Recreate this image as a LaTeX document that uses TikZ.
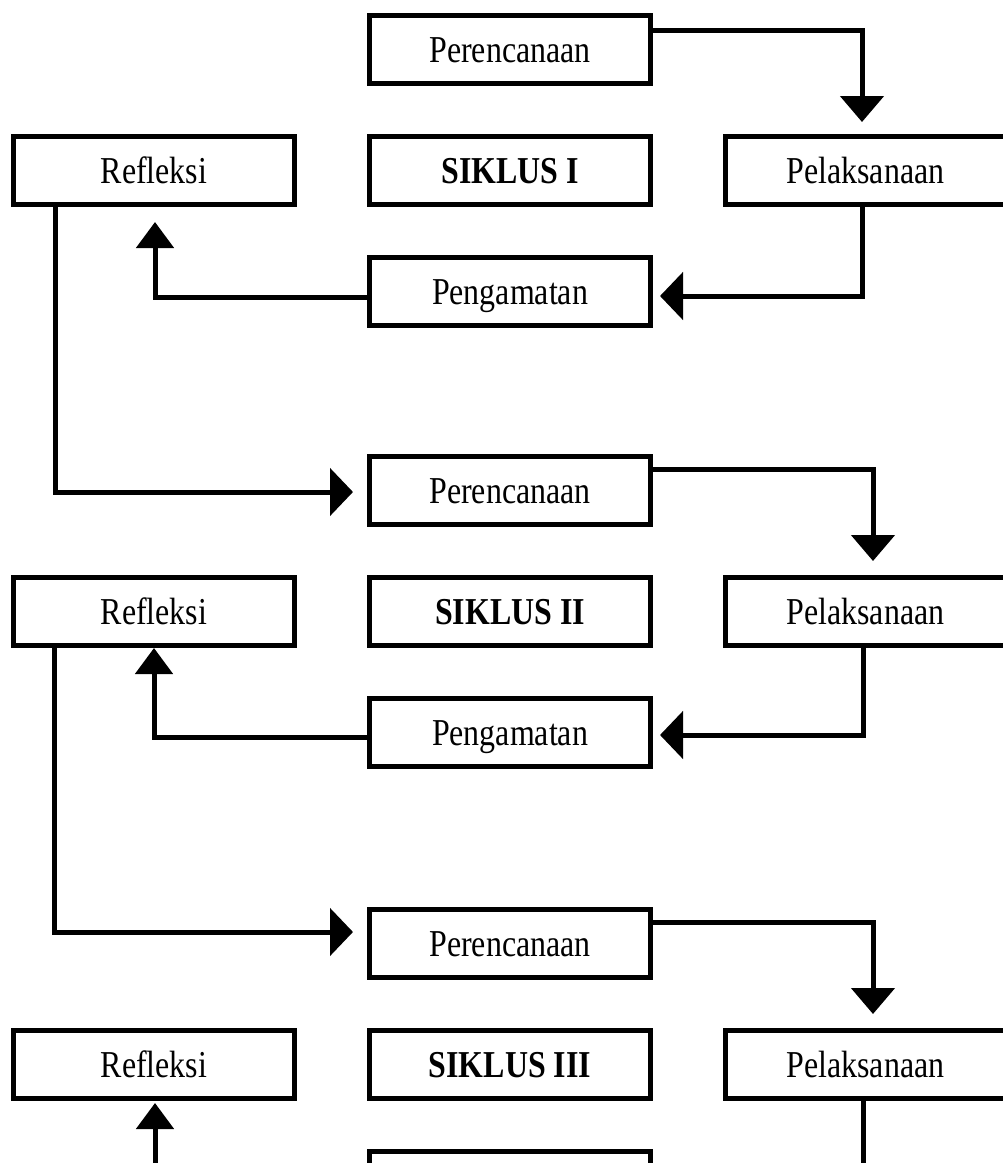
\documentclass[tikz,border=0pt]{standalone}
\usepackage{fontspec}
\setmainfont{Liberation Serif}[FakeStretch=0.84]
\usetikzlibrary{arrows.meta}
\tikzset{
  stage/.style={draw=black, line width=5pt, fill=white, minimum width=281pt, minimum height=68pt,
    inner sep=0pt, outer sep=0pt, text height=25pt, text depth=0pt,
    font=\fontsize{38pt}{40pt}\selectfont},
  title/.style={stage, font=\fontsize{38pt}{40pt}\selectfont\bfseries},
  conn/.style={draw=black, line width=5pt, line join=miter},
  darr/.style={conn, -{Triangle[length=26pt,width=43pt]}},
  uarr/.style={conn, -{Triangle[length=26pt,width=37pt]}},
  larr/.style={conn, -{Triangle[length=23pt,width=47pt]}},
  rarr/.style={conn, -{Triangle[length=23pt,width=47pt]}}
}
\begin{document}
\begin{tikzpicture}[x=1pt,y=-1pt]
\useasboundingbox (0,0) rectangle (1003,1163);
\fill[white] (0,0) rectangle (1003,1163);
\clip (0,0) rectangle (1003,1163);

% ---- Cycle I ----
\node[stage] (perc1) at (510,49.5) {Perencanaan};
\node[stage] (ref1)  at (154,170.5) {Refleksi};
\node[title] (sik1)  at (510,170.5) {SIKLUS I};
\node[stage] (pel1)  at (865.5,170.5) {Pelaksanaan};
\node[stage] (peng1) at (510,291.5) {Pengamatan};

% ---- Cycle II ----
\node[stage] (perc2) at (510,490.5) {Perencanaan};
\node[stage] (ref2)  at (154,611.5) {Refleksi};
\node[title] (sik2)  at (510,611.5) {SIKLUS II};
\node[stage] (pel2)  at (865.5,611.5) {Pelaksanaan};
\node[stage] (peng2) at (510,732.5) {Pengamatan};

% ---- Cycle III ----
\node[stage] (perc3) at (510,943.5) {Perencanaan};
\node[stage] (ref3)  at (154,1064.5) {Refleksi};
\node[title] (sik3)  at (510,1064.5) {SIKLUS III};
\node[stage] (pel3)  at (865.5,1064.5) {Pelaksanaan};
\node[stage] (peng3) at (510,1185.5) {};

% ---- Connectors cycle I ----
\draw[darr] ([yshift=19.5pt]perc1.east) -| ([xshift=-3.5pt,yshift=14.5pt]pel1.north);
\draw[larr] ([xshift=-3.5pt]pel1.south) |- ([xshift=9.5pt,yshift=-4.5pt]peng1.east);
\draw[uarr] ([yshift=-5.5pt]peng1.west) -| ([xshift=1pt,yshift=-17.5pt]ref1.south);
\draw[rarr] ([xshift=-99pt]ref1.south) |- ([xshift=-16.5pt,yshift=-1.5pt]perc2.west);

% ---- Connectors cycle II ----
\draw[darr] ([yshift=21.5pt]perc2.east) -| ([xshift=7.5pt,yshift=16.5pt]pel2.north);
\draw[larr] ([xshift=-2.5pt]pel2.south) |- ([xshift=9.5pt,yshift=-2.5pt]peng2.east);
\draw[uarr] ([yshift=-4.5pt]peng2.west) -| ([yshift=-2.5pt]ref2.south);
\draw[rarr] ([xshift=-100pt]ref2.south) |- ([xshift=-16.5pt,yshift=11.5pt]perc3.west);

% ---- Connectors cycle III ----
\draw[darr] ([yshift=21.5pt]perc3.east) -| ([xshift=7.5pt,yshift=16.5pt]pel3.north);
\draw[larr] ([xshift=-2.5pt]pel3.south) |- ([xshift=9.5pt,yshift=-2.5pt]peng3.east);
\draw[uarr] ([yshift=-4.5pt]peng3.west) -| ([xshift=1pt,yshift=-4.5pt]ref3.south);
\end{tikzpicture}
\end{document}
